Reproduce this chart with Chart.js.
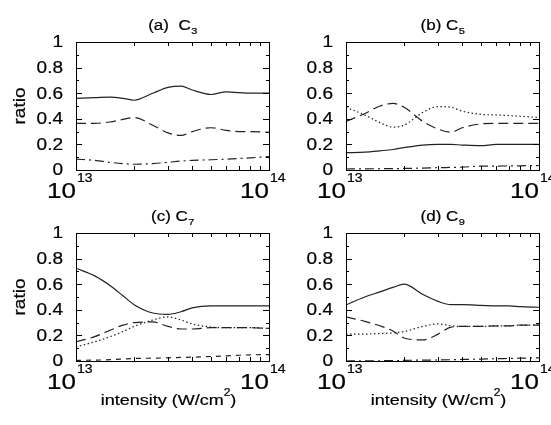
<!DOCTYPE html>
<html>
<head>
<meta charset="utf-8">
<script src="https://cdn.jsdelivr.net/npm/chart.js@4"></script>
<style>
  body { margin: 0; background: #fff; }
  #wrap { position: relative; width: 551px; height: 425px; }
  #wrap canvas { position: absolute; left: 0; top: 0; }
</style>
</head>
<body>
<div id="wrap">
  <canvas id="pa" width="551" height="425"></canvas>
  <canvas id="pb" width="551" height="425"></canvas>
  <canvas id="pc" width="551" height="425"></canvas>
  <canvas id="pd" width="551" height="425"></canvas>
</div>
<script>
// intensity in units of 1e13 W/cm^2
const intensity = [1, 1.25, 1.5, 1.75, 2, 2.5, 3, 3.5, 4, 5, 6, 7, 8, 10];

const yTicks = [0, 0.2, 0.4, 0.6, 0.8, 1];
const yTickLabels = ['0', '0.2', '0.4', '0.6', '0.8', '1'];
const xTickExps = [13, 14];

// (a) C3
const c3Solid   = [0.56, 0.565, 0.57, 0.56, 0.545, 0.60, 0.645, 0.655, 0.625, 0.59, 0.61, 0.605, 0.60, 0.60];
const c3Dashed  = [0.365, 0.365, 0.375, 0.395, 0.41, 0.35, 0.29, 0.27, 0.30, 0.33, 0.31, 0.30, 0.30, 0.295];
const c3DashDot = [0.085, 0.075, 0.06, 0.05, 0.045, 0.05, 0.06, 0.07, 0.075, 0.08, 0.085, 0.09, 0.095, 0.105];

// (b) C5
const c5Solid   = [0.135, 0.14, 0.15, 0.16, 0.175, 0.195, 0.20, 0.20, 0.195, 0.19, 0.20, 0.20, 0.20, 0.20];
const c5Dashed  = [0.38, 0.44, 0.50, 0.52, 0.49, 0.38, 0.32, 0.295, 0.33, 0.36, 0.365, 0.365, 0.365, 0.365];
const c5Dotted  = [0.49, 0.43, 0.37, 0.335, 0.35, 0.45, 0.495, 0.49, 0.46, 0.435, 0.43, 0.425, 0.42, 0.41];
const c5DashDot = [0.008, 0.009, 0.01, 0.011, 0.012, 0.015, 0.018, 0.02, 0.022, 0.03, 0.03, 0.032, 0.033, 0.035];

// (c) C7
const c7Solid   = [0.725, 0.665, 0.59, 0.51, 0.44, 0.375, 0.365, 0.385, 0.415, 0.43, 0.43, 0.43, 0.43, 0.43];
const c7Dashed  = [0.15, 0.19, 0.24, 0.28, 0.30, 0.305, 0.27, 0.25, 0.25, 0.26, 0.26, 0.26, 0.26, 0.255];
const c7Dotted  = [0.11, 0.15, 0.19, 0.23, 0.27, 0.32, 0.345, 0.32, 0.29, 0.265, 0.26, 0.26, 0.26, 0.255];
const c7Short   = [0.005, 0.007, 0.01, 0.015, 0.02, 0.022, 0.025, 0.028, 0.03, 0.035, 0.04, 0.045, 0.048, 0.05];

// (d) C9
const c9Solid   = [0.437, 0.50, 0.54, 0.575, 0.60, 0.52, 0.466, 0.44, 0.44, 0.435, 0.43, 0.43, 0.425, 0.42];
const c9Dashed  = [0.345, 0.31, 0.275, 0.235, 0.18, 0.165, 0.21, 0.265, 0.27, 0.27, 0.275, 0.275, 0.28, 0.28];
const c9Dotted  = [0.21, 0.21, 0.215, 0.22, 0.23, 0.27, 0.29, 0.275, 0.27, 0.27, 0.275, 0.275, 0.28, 0.28];
const c9DashDot = [0.0, 0.001, 0.002, 0.003, 0.005, 0.007, 0.008, 0.01, 0.012, 0.015, 0.018, 0.02, 0.022, 0.025];

const styles = {
  solid: [],
  dashed: [10, 5],
  dotted: [1.5, 2.5],
  dashdot: [9, 4, 2, 4],
  short: [5, 5]
};

const FONT = '"Liberation Sans", Arial, Helvetica, sans-serif';
const SQ = 0.85; // glyphs in the picture are a bit squashed

function txt(ctx, s, x, y, size, align, baseline) {
  ctx.save();
  ctx.translate(x, y);
  ctx.scale(1, SQ);
  ctx.font = size + 'px ' + FONT;
  ctx.textAlign = align || 'left';
  ctx.textBaseline = baseline || 'alphabetic';
  ctx.fillText(s, 0, 0);
  // very thin outline, the scan's glyphs are a little heavier
  ctx.lineWidth = 0.25;
  ctx.strokeStyle = '#000';
  ctx.strokeText(s, 0, 0);
  ctx.restore();
}

function textW(ctx, s, size) {
  ctx.font = size + 'px ' + FONT;
  return ctx.measureText(s).width;
}

const framePlugin = {
  id: 'frame',
  afterDraw(chart, args, opts) {
    const ctx = chart.ctx;
    const a = chart.chartArea;
    const xs = chart.scales.x, ys = chart.scales.y;
    ctx.save();
    ctx.strokeStyle = '#000';
    ctx.lineWidth = 1;
    ctx.strokeRect(a.left + 0.5, a.top + 0.5, a.right - a.left, a.bottom - a.top);
    ctx.beginPath();
    // y ticks inward, both sides
    for (let v = 0; v <= 10; v++) {
      const y = Math.round(ys.getPixelForValue(v / 10)) + 0.5;
      const len = v % 2 === 0 ? 6 : 3;
      ctx.moveTo(a.left, y); ctx.lineTo(a.left + len, y);
      ctx.moveTo(a.right, y); ctx.lineTo(a.right - len, y);
    }
    // x minor ticks inward, top and bottom
    for (let m = 2; m <= 9; m++) {
      const x = Math.round(xs.getPixelForValue(m * 1e13)) + 0.5;
      ctx.moveTo(x, a.bottom); ctx.lineTo(x, a.bottom - 4);
      ctx.moveTo(x, a.top); ctx.lineTo(x, a.top + 4);
    }
    ctx.stroke();

    ctx.fillStyle = '#000';
    // y tick labels
    yTicks.forEach((v, i) => {
      txt(ctx, yTickLabels[i], a.left - 13, ys.getPixelForValue(v) + 1, 19, 'right', 'middle');
    });
    // x tick labels 10^13, 10^14
    xTickExps.forEach(e => {
      const x = xs.getPixelForValue(Math.pow(10, e));
      txt(ctx, '10', x, a.bottom + 28, 26, 'right');
      txt(ctx, String(e), x + 1, a.bottom + 12, 14, 'left');
    });
    // panel title
    const cx = (a.left + a.right) / 2;
    const wMain = textW(ctx, opts.title, 17);
    const wSub = textW(ctx, opts.sub, 11);
    const x0 = cx - (wMain + wSub) / 2;
    txt(ctx, opts.title, x0, a.top - 12, 17);
    txt(ctx, opts.sub, x0 + wMain + 0.5, a.top - 8, 11);

    if (opts.yLabel) {
      ctx.save();
      ctx.translate(25, (a.top + a.bottom) / 2);
      ctx.rotate(-Math.PI / 2);
      txt(ctx, 'ratio', 0, 0, 19, 'center');
      ctx.restore();
    }
    if (opts.xLabel) {
      const t1 = 'intensity (W/cm', t2 = '2', t3 = ')';
      const w1 = textW(ctx, t1, 18), w2 = textW(ctx, t2, 12), w3 = textW(ctx, t3, 18);
      const xx = cx - 4 - (w1 + w2 + w3) / 2;
      const base = a.bottom + 44;
      txt(ctx, t1, xx, base, 18);
      txt(ctx, t2, xx + w1, base - 9, 12);
      txt(ctx, t3, xx + w1 + w2, base, 18);
    }
    ctx.restore();
  }
};

function makePanel(id, area, series, opts) {
  const W = 551, H = 425;
  new Chart(document.getElementById(id), {
    type: 'line',
    data: {
      datasets: series.map(s => ({
        data: intensity.map((v, i) => ({ x: v * 1e13, y: s.values[i] })),
        borderColor: '#222',
        borderWidth: 1.2,
        borderDash: styles[s.style],
        pointRadius: 0,
        cubicInterpolationMode: 'monotone',
        fill: false
      }))
    },
    options: {
      responsive: false,
      animation: false,
      layout: { padding: { left: area[0], right: W - area[1], top: area[2], bottom: H - area[3] } },
      plugins: { legend: { display: false }, tooltip: { enabled: false }, frame: opts },
      scales: {
        x: { type: 'logarithmic', min: 1e13, max: 1e14, display: false },
        y: { type: 'linear', min: 0, max: 1, display: false }
      }
    },
    plugins: [framePlugin]
  });
}

makePanel('pa', [76, 269, 42, 170], [
  { values: c3Solid, style: 'solid' },
  { values: c3Dashed, style: 'dashed' },
  { values: c3DashDot, style: 'dashdot' }
], { title: '(a)  C', sub: '3', yLabel: true, xLabel: false });

makePanel('pb', [346, 539, 42, 170], [
  { values: c5Solid, style: 'solid' },
  { values: c5Dashed, style: 'dashed' },
  { values: c5Dotted, style: 'dotted' },
  { values: c5DashDot, style: 'dashdot' }
], { title: '(b) C', sub: '5', yLabel: false, xLabel: false });

makePanel('pc', [76, 269, 233, 361], [
  { values: c7Solid, style: 'solid' },
  { values: c7Dashed, style: 'dashed' },
  { values: c7Dotted, style: 'dotted' },
  { values: c7Short, style: 'short' }
], { title: '(c) C', sub: '7', yLabel: true, xLabel: true });

makePanel('pd', [346, 539, 233, 361], [
  { values: c9Solid, style: 'solid' },
  { values: c9Dashed, style: 'dashed' },
  { values: c9Dotted, style: 'dotted' },
  { values: c9DashDot, style: 'dashdot' }
], { title: '(d) C', sub: '9', yLabel: false, xLabel: true });
</script>
</body>
</html>
